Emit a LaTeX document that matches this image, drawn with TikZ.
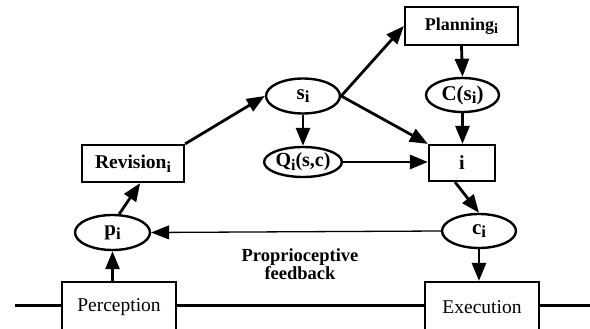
\documentclass[tikz,border=0pt]{standalone}
\usepackage{fontspec}
\setmainfont{Liberation Serif}
\usetikzlibrary{shapes.geometric,arrows.meta}
\tikzset{>={Triangle[length=18pt,width=14pt]}}
\tikzset{
  box/.style={draw, line width=2.2pt, fill=white, inner sep=0pt},
  oval/.style={ellipse, draw, line width=2.4pt, fill=white, inner sep=0pt},
  lbl/.style={font=\fontsize{#1}{#1}\selectfont\bfseries},
  plain/.style={font=\fontsize{#1}{#1}\selectfont},
}
\newcommand{\subi}{\raisebox{-0.4ex}{\scalebox{0.8}{i}}}

\begin{document}
\begin{tikzpicture}[x=1pt,y=-1pt,line width=2.8pt]
                \useasboundingbox (0,0) rectangle (590,329);
               %\draw[help lines] (0,0) grid[step=50] (590,329);
                % ground line
                \draw[line width=3pt] (15,305) -- (590,305);
                \node[box, minimum width=113pt, minimum height=38pt, lbl=18] (plan) at (461.5,26) {Planning\subi};
                \node[box, minimum width=102pt, minimum height=37pt, lbl=19.5] (rev) at (133,163.5) {Revision\subi};
                \node[box, minimum width=66pt, minimum height=36pt, lbl=20] (ibox) at (462,163) {i};
                \node[box, minimum width=114pt, minimum height=50pt, plain=19.5] (perc) at (119,307) {Perception};
                \node[box, minimum width=114pt, minimum height=50pt, plain=19.5] (exec) at (482,307) {Execution};
                \node[oval, minimum width=74pt, minimum height=35pt, lbl=21] (s) at (303,96) {s\subi};
                \node[oval, minimum width=74pt, minimum height=30pt, lbl=20] (q) at (303,162) {Q\subi(s,c)};
                \node[oval, minimum width=73pt, minimum height=34pt, lbl=21] (cs) at (462.5,95) {C(s\subi)};
                \node[oval, minimum width=75pt, minimum height=35pt, lbl=21] (p) at (112.5,232.5) {p\subi};
                \node[oval, minimum width=74pt, minimum height=34pt, lbl=21] (c) at (479,231) {c\subi};
                \draw[->] (p.south |- perc.north) -- (p.south);
                \draw[->] (p.70) -- (rev.290);
                \draw[->] (rev.north east) -- (s.west);
                \draw[->] (s.east) -- (plan.west);
                \draw[->] (s.east) -- (ibox.north west);
                \draw[->] (s.south) -- (q.north);
                \draw[->] (q.east) -- (q.east -| ibox.west);
                \draw[->] (plan.south) -- (cs.north);
                \draw[->] (cs.south) -- (cs.south |- ibox.north);
                \draw[->] (ibox.250) -- (c.north);
                \draw[->] (c.south) -- (c.south |- exec.north);
                \draw[->, line width=1.3pt] (c.west) -- (p.east);
                \node[align=center, font=\fontsize{18.5}{15}\selectfont\bfseries] (fb) at (300,264) {Proprioceptive\\feedback};
\end{tikzpicture}
\end{document}
